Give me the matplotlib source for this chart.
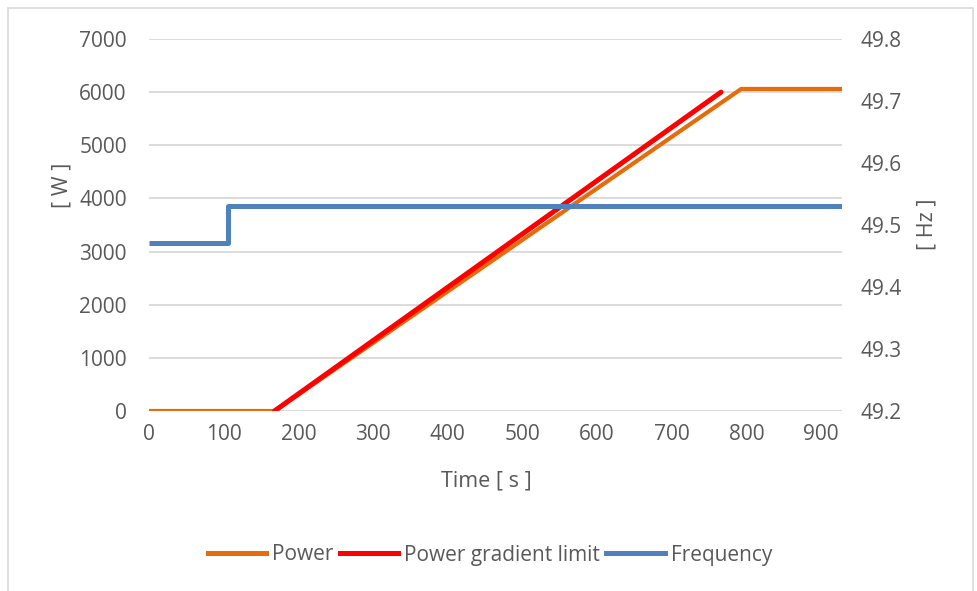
import matplotlib
matplotlib.use("Agg")
import matplotlib.pyplot as plt
from matplotlib.lines import Line2D
from matplotlib.patches import Rectangle

plt.rcParams['font.family'] = ['Open Sans', 'DejaVu Sans']

# Data
power_time = [0, 168, 793, 928]
power_w = [0, 0, 6060, 6060]

limit_time = [168, 766]
limit_w = [0, 6000]

freq_time = [0, 106, 106, 928]
freq_hz = [49.471, 49.471, 49.531, 49.531]

x_ticks = [0, 100, 200, 300, 400, 500, 600, 700, 800, 900]
y_ticks = [0, 1000, 2000, 3000, 4000, 5000, 6000, 7000]
y2_ticks = [49.2, 49.3, 49.4, 49.5, 49.6, 49.7, 49.8]

c_power = '#E46C0A'
c_limit = '#FF0000'
c_freq = '#4F81BD'
c_text = '#595959'
c_grid = '#D9D9D9'

W, H = 978, 591
fig = plt.figure(figsize=(W / 100, H / 100), dpi=100)
fig.patch.set_facecolor('white')
fig.patches.append(Rectangle((8 / W, -0.01), (973 - 8) / W, 1 - 8 / H + 0.01,
                             transform=fig.transFigure, fill=False,
                             edgecolor='#D9D9D9', linewidth=1.2))

left, right, top, bottom = 149, 842, 39, 411
ax = fig.add_axes([left / W, 1 - bottom / H, (right - left) / W, (bottom - top) / H])
ax.set_xlim(0, 928)
ax.set_ylim(0, 7000)
ax.set_xticks(x_ticks)
ax.set_yticks(y_ticks)
ax.grid(axis='y', color=c_grid, linewidth=1.3)
ax.set_axisbelow(True)
for s in ax.spines.values():
    s.set_visible(False)
ax.tick_params(length=0, labelsize=15, colors=c_text)
ax.tick_params(axis='x', pad=9)
ax.tick_params(axis='y', pad=16)

ax.plot(power_time, power_w, color=c_power, linewidth=3.0, solid_capstyle='butt', zorder=3)
ax.plot(limit_time, limit_w, color=c_limit, linewidth=3.6, solid_capstyle='round', zorder=4)

ax2 = ax.twinx()
ax2.set_ylim(49.2, 49.8)
ax2.set_yticks(y2_ticks)
ax2.set_yticklabels([f"{v:.1f}" for v in y2_ticks])
for s in ax2.spines.values():
    s.set_visible(False)
ax2.tick_params(length=0, labelsize=15, colors=c_text, pad=13)
ax2.plot(freq_time, freq_hz, color=c_freq, linewidth=3.6, solid_capstyle='butt', zorder=5)

fig.text(486 / W, 1 - 481 / H, 'Time [ s ]', ha='center', va='center', fontsize=15.5, color=c_text)
fig.text(62 / W, 1 - 185 / H, '[ W ]', ha='center', va='center', rotation=90, fontsize=15.5, color=c_text)
fig.text(927 / W, 1 - 224 / H, '[ Hz ]', ha='center', va='center', rotation=90, fontsize=15.5, color=c_text)

handles = [Line2D([], [], color=c_power, linewidth=3.6),
           Line2D([], [], color=c_limit, linewidth=3.6),
           Line2D([], [], color=c_freq, linewidth=3.6)]
fig.legend(handles, ['Power', 'Power gradient limit', 'Frequency'],
           loc='center', bbox_to_anchor=(490 / W, 1 - 555 / H), ncol=3, frameon=False,
           fontsize=15, labelcolor=c_text, handlelength=2.8, handletextpad=0.3,
           columnspacing=0.3)

fig.savefig('out.png', dpi=100, facecolor='white')
